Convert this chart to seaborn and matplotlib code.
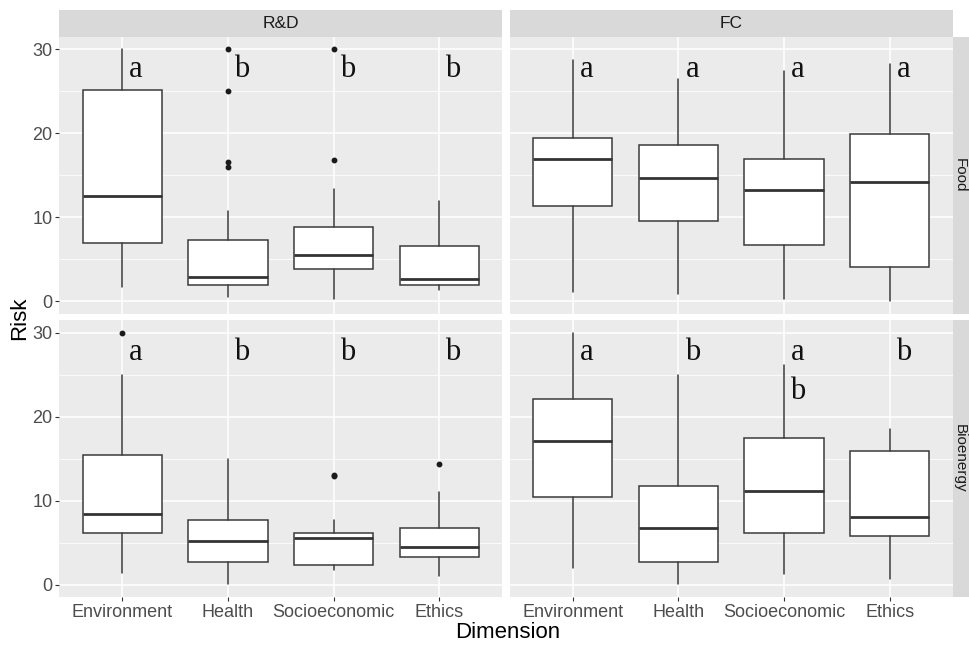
import matplotlib
matplotlib.use("Agg")
import matplotlib.pyplot as plt
import pandas as pd
import seaborn as sns

# data (box stats per facet)
sectors = ["R&D", "FC"]
uses = ["Food", "Bioenergy"]
dimensions = ["Environment", "Health", "Socioeconomic", "Ethics"]

# order: (R&D, Food), (FC, Food), (R&D, Bioenergy), (FC, Bioenergy)
rd_food_low = [1.7, 0.5, 0.3, 1.3]
rd_food_q1 = [6.9, 1.9, 3.85, 2.0]
rd_food_med = [12.5, 2.85, 5.5, 2.65]
rd_food_q3 = [25.1, 7.3, 8.8, 6.55]
rd_food_high = [30.0, 10.7, 13.4, 12.0]
rd_food_out = [[], [30.0, 25.0, 16.6, 16.0], [30.0, 16.8], []]
rd_food_letters = ["a", "b", "b", "b"]

fc_food_low = [1.1, 0.85, 0.3, 0.1]
fc_food_q1 = [11.3, 9.6, 6.7, 4.1]
fc_food_med = [16.9, 14.7, 13.3, 14.2]
fc_food_q3 = [19.5, 18.6, 17.0, 19.9]
fc_food_high = [28.7, 26.5, 27.4, 28.3]
fc_food_out = [[], [], [], []]
fc_food_letters = ["a", "a", "a", "a"]

rd_bio_low = [1.45, 0.05, 1.8, 1.0]
rd_bio_q1 = [6.2, 2.7, 2.3, 3.3]
rd_bio_med = [8.4, 5.15, 5.5, 4.5]
rd_bio_q3 = [15.4, 7.65, 6.2, 6.7]
rd_bio_high = [25.0, 15.0, 7.7, 11.0]
rd_bio_out = [[30.0], [], [12.9, 13.1], [14.4]]
rd_bio_letters = ["a", "b", "b", "b"]

fc_bio_low = [2.0, 0.05, 1.3, 0.7]
fc_bio_q1 = [10.4, 2.7, 6.1, 5.8]
fc_bio_med = [17.1, 6.75, 11.1, 8.1]
fc_bio_q3 = [22.1, 11.75, 17.5, 15.9]
fc_bio_high = [30.0, 25.0, 26.2, 18.5]
fc_bio_out = [[], [], [], []]
fc_bio_letters = ["a", "b", "a/b", "b"]

groups = [
    ("R&D", "Food", rd_food_low, rd_food_q1, rd_food_med, rd_food_q3, rd_food_high, rd_food_out, rd_food_letters),
    ("FC", "Food", fc_food_low, fc_food_q1, fc_food_med, fc_food_q3, fc_food_high, fc_food_out, fc_food_letters),
    ("R&D", "Bioenergy", rd_bio_low, rd_bio_q1, rd_bio_med, rd_bio_q3, rd_bio_high, rd_bio_out, rd_bio_letters),
    ("FC", "Bioenergy", fc_bio_low, fc_bio_q1, fc_bio_med, fc_bio_q3, fc_bio_high, fc_bio_out, fc_bio_letters),
]

rows = []
for sec, use, lo, q1, med, q3, hi, out, let in groups:
    for i, d in enumerate(dimensions):
        rows.append(dict(sector=sec, use=use, dimension=d, lo=lo[i], q1=q1[i], med=med[i],
                         q3=q3[i], hi=hi[i], out=out[i], letter=let[i]))
df = pd.DataFrame(rows)

sns.set_theme(style="darkgrid", rc={
    "axes.facecolor": "#EBEBEB", "grid.color": "white", "axes.edgecolor": "#EBEBEB",
    "xtick.bottom": True, "ytick.left": True, "xtick.color": "#333333", "ytick.color": "#333333",
    "xtick.major.size": 2.7, "ytick.major.size": 2.7, "xtick.major.width": 0.8, "ytick.major.width": 0.8,
})
plt.rcParams["font.family"] = ["Liberation Sans", "DejaVu Sans"]

W, H = 969, 646
g = sns.FacetGrid(df, row="use", col="sector", row_order=uses, col_order=sectors,
                  sharex=True, sharey=True, height=2.8, aspect=1.6, margin_titles=False)
g.figure.set_size_inches(W / 100, H / 100)
g.figure.set_dpi(100)


def draw_boxes(data, **kws):
    ax = plt.gca()
    stats = []
    for _, r in data.iterrows():
        stats.append(dict(whislo=r.lo, q1=r.q1, med=r.med, q3=r.q3, whishi=r.hi, fliers=r.out))
    ax.bxp(stats, positions=range(len(stats)), widths=0.75, patch_artist=True, showcaps=False,
           boxprops=dict(facecolor="white", edgecolor="#3a3a3a", linewidth=1.1),
           medianprops=dict(color="#333333", linewidth=2.0),
           whiskerprops=dict(color="#3a3a3a", linewidth=1.1),
           flierprops=dict(marker="o", markersize=3.2, markerfacecolor="#1a1a1a",
                           markeredgecolor="#1a1a1a"))
    for i, (_, r) in enumerate(data.iterrows()):
        for k, ch in enumerate(r.letter.split("/")):
            ax.text(i + 0.13, 26.7 - 4.6 * k, ch, ha="center", va="baseline", fontsize=22,
                    family=["Liberation Serif", "DejaVu Serif"], color="#111111")


g.map_dataframe(draw_boxes)
g.set_titles("")

for ri in range(2):
    for ci in range(2):
        ax = g.axes[ri, ci]
        ax.set_xlim(-0.6, 3.6)
        ax.set_ylim(-1.5, 31.5)
        ax.set_yticks([0, 10, 20, 30])
        ax.set_yticks([5, 15, 25], minor=True)
        ax.set_xticks(range(4))
        ax.set_xticklabels(dimensions)
        ax.grid(True, which="major", color="white", linewidth=1.1)
        ax.grid(True, which="minor", axis="y", color="white", linewidth=0.55)
        ax.tick_params(axis="both", which="major", labelsize=13, labelcolor="#4D4D4D", pad=2)
        ax.tick_params(axis="y", which="minor", length=0)
        if ri == 0:
            ax.tick_params(axis="x", which="both", length=0, labelbottom=False)
        if ci == 1:
            ax.tick_params(axis="y", which="both", length=0, labelleft=False)
        ax.set_xlabel("")
        ax.set_ylabel("")
        for s in ax.spines.values():
            s.set_visible(False)

left, right, top, bottom = 59 / W, 953 / W, 1 - 36.7 / H, 1 - 597.3 / H
g.figure.subplots_adjust(left=left, right=right, top=top, bottom=bottom, wspace=0.016, hspace=0.022)

# facet strips in the ggplot manner
fig = g.figure
for j, sec in enumerate(sectors):
    pos = g.axes[0, j].get_position()
    sax = fig.add_axes([pos.x0, pos.y1, pos.width, 26.5 / H])
    sax.set_facecolor("#D9D9D9")
    sax.set_xticks([]); sax.set_yticks([])
    for s in sax.spines.values():
        s.set_visible(False)
    sax.text(0.5, 0.5, sec, ha="center", va="center", fontsize=12.5, color="#1A1A1A",
             transform=sax.transAxes)
for i, use in enumerate(uses):
    pos = g.axes[i, 1].get_position()
    sax = fig.add_axes([pos.x1, pos.y0, 1 - pos.x1, pos.height])
    sax.set_facecolor("#D9D9D9")
    sax.set_xticks([]); sax.set_yticks([])
    for s in sax.spines.values():
        s.set_visible(False)
    sax.text(0.45, 0.5, use, ha="center", va="center", rotation=-90, fontsize=11,
             color="#1A1A1A", transform=sax.transAxes)

fig.text(508 / W, 1 - 633 / H, "Dimension", ha="center", va="center", fontsize=16, color="black")
fig.text(20 / W, 1 - 318 / H, "Risk", ha="center", va="center", rotation=90, fontsize=16, color="black")

fig.savefig("out.png", dpi=100, facecolor="white")
